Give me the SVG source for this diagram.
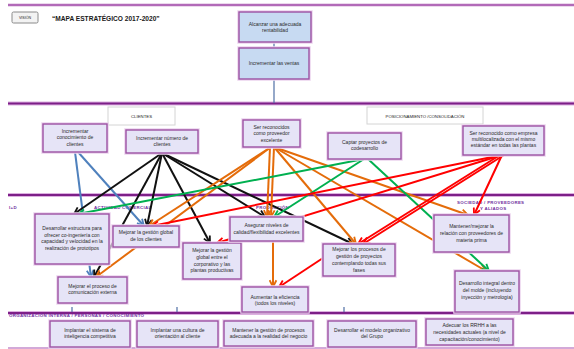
<svg xmlns="http://www.w3.org/2000/svg" width="574" height="349" viewBox="0 0 574 349">
<style>
.bg{fill:#fff}
.band-h{stroke:#dcb0e0;stroke-width:3.8;fill:none}
.band{stroke:#7d1f88;stroke-width:1.8;fill:none}
.band-top{stroke:#b26ab8;stroke-width:2.4;fill:none}
.band-bot{stroke:#c48ccb;stroke-width:1.4;fill:none}
.glow{fill:none;stroke:#ecd3ee;stroke-width:3.5}
.box{fill:#e6e4f7;stroke:#9c52a3;stroke-width:1.4}
.box.top{fill:#c7daf2}
.lab{fill:#fff;stroke:#d4d4d4;stroke-width:1}
.t{font-family:"Liberation Sans",Arial,sans-serif;font-size:5px;fill:#2a2a2a;text-anchor:middle}
.tl{font-family:"Liberation Sans",Arial,sans-serif;font-size:4.3px;fill:#222;text-anchor:middle}
.sec{font-family:"Liberation Sans",Arial,sans-serif;font-size:4.4px;font-weight:bold;fill:#7030a0;letter-spacing:0.3px}
.title{font-family:"Liberation Sans",Arial,sans-serif;font-size:6.6px;font-weight:bold;fill:#1a1a1a}
.c{fill:none;stroke-width:2}
.blue{stroke:#4f81bd}
.black{stroke:#111}
.orange{stroke:#e46c0a}
.green{stroke:#00b050}
.red{stroke:#ff0000}
.stub{stroke:#4f6fa5;stroke-width:1.2}
</style>
<defs>
<marker id="mBlue" viewBox="0 0 8 8" refX="7" refY="4" markerWidth="9" markerHeight="9" markerUnits="userSpaceOnUse" orient="auto"><path d="M1,1 L7,4 L1,7" fill="none" stroke="#4f81bd" stroke-width="1.6"/></marker>
<marker id="mBlack" viewBox="0 0 8 8" refX="7" refY="4" markerWidth="9" markerHeight="9" markerUnits="userSpaceOnUse" orient="auto"><path d="M1,1 L7,4 L1,7" fill="none" stroke="#111" stroke-width="1.6"/></marker>
<marker id="mOrange" viewBox="0 0 8 8" refX="7" refY="4" markerWidth="9" markerHeight="9" markerUnits="userSpaceOnUse" orient="auto"><path d="M1,1 L7,4 L1,7" fill="none" stroke="#e46c0a" stroke-width="1.6"/></marker>
<marker id="mGreen" viewBox="0 0 8 8" refX="7" refY="4" markerWidth="9" markerHeight="9" markerUnits="userSpaceOnUse" orient="auto"><path d="M1,1 L7,4 L1,7" fill="none" stroke="#00b050" stroke-width="1.6"/></marker>
<marker id="mRed" viewBox="0 0 8 8" refX="7" refY="4" markerWidth="9" markerHeight="9" markerUnits="userSpaceOnUse" orient="auto"><path d="M1,1 L7,4 L1,7" fill="none" stroke="#ff0000" stroke-width="1.6"/></marker>
</defs>
<rect class="bg" x="0" y="0" width="574" height="349"/>

<g id="bands">
<line class="band-top" x1="8" y1="5" x2="574" y2="5"/>
<line class="band-h" x1="8" y1="103.5" x2="574" y2="103.5"/>
<line class="band" x1="8" y1="103.5" x2="574" y2="103.5"/>
<line class="band-h" x1="8" y1="195" x2="574" y2="195"/>
<line class="band" x1="8" y1="195" x2="574" y2="195"/>
<line class="band-h" x1="8" y1="313" x2="574" y2="313"/>
<line class="band" x1="8" y1="313" x2="574" y2="313"/>
<line class="band-bot" x1="8" y1="348" x2="574" y2="348"/>
</g>

<g id="labels">
<rect x="12" y="12" width="26" height="11" rx="1.5" fill="#f3f3f3" stroke="#8a8a8a" stroke-width="1"/>
<text class="tl" x="25" y="19" style="font-size:3.6px">VISIÓN</text>
<text class="title" x="52" y="21">“MAPA ESTRATÉGICO 2017-2020”</text>
<rect class="lab" x="108" y="107" width="67" height="18"/>
<text class="tl" x="141.5" y="118">CLIENTES</text>
<rect class="lab" x="367" y="107" width="116" height="17"/>
<text class="tl" x="425" y="118">POSICIONAMIENTO /CONSOLIDACIÓN</text>
<text class="sec" x="9" y="209">I+D</text>
<text class="sec" x="94" y="209">ACTIVIDAD COMERCIAL</text>
<text class="sec" x="256" y="209">PRODUCCIÓN</text>
<text class="sec" x="457" y="204">SOCIEDAD / PROVEEDORES</text>
<text class="sec" x="480" y="209.5">Y ALIADOS</text>
<text class="sec" x="9" y="317">ORGANIZACIÓN INTERNA / PERSONAS / CONOCIMIENTO</text>
</g>

<g id="connectors">
<line class="stub" x1="274" y1="42" x2="274" y2="48"/>
<line class="stub" x1="274" y1="79" x2="274" y2="103"/>
<line class="stub" x1="72" y1="307" x2="72" y2="312"/>
<line class="stub" x1="177" y1="307" x2="177" y2="312"/>
<line class="stub" x1="344" y1="307" x2="344" y2="312"/>

<line class="c blue" x1="75" y1="152" x2="91" y2="277" marker-end="url(#mBlue)"/>
<line class="c blue" x1="78" y1="152" x2="144" y2="226" marker-end="url(#mBlue)"/>

<line class="c black" x1="162" y1="153" x2="74" y2="214" marker-end="url(#mBlack)"/>
<line class="c black" x1="162" y1="153" x2="94" y2="277" marker-end="url(#mBlack)"/>
<line class="c black" x1="162" y1="153" x2="147" y2="226" marker-end="url(#mBlack)"/>
<line class="c black" x1="162" y1="153" x2="210" y2="243" marker-end="url(#mBlack)"/>
<line class="c black" x1="162" y1="153" x2="265" y2="217" marker-end="url(#mBlack)"/>
<line class="c black" x1="162" y1="153" x2="353" y2="244" marker-end="url(#mBlack)"/>

<line class="c orange" x1="271" y1="147" x2="149" y2="226" marker-end="url(#mOrange)"/>
<line class="c orange" x1="271" y1="147" x2="96" y2="277" marker-end="url(#mOrange)"/>
<line class="c orange" x1="270" y1="147" x2="267" y2="217" marker-end="url(#mOrange)"/>
<line class="c orange" x1="274" y1="147" x2="271" y2="217" marker-end="url(#mOrange)"/>
<line class="c orange" x1="274" y1="147" x2="356" y2="244" marker-end="url(#mOrange)"/>
<line class="c orange" x1="274" y1="147" x2="468" y2="215" marker-end="url(#mOrange)"/>
<line class="c orange" x1="274" y1="147" x2="486" y2="271" marker-end="url(#mOrange)"/>
<line class="c orange" x1="273" y1="241" x2="273" y2="287" marker-end="url(#mOrange)"/>

<line class="c green" x1="364" y1="159" x2="78" y2="214" marker-end="url(#mGreen)"/>
<line class="c green" x1="364" y1="159" x2="274" y2="217" marker-end="url(#mGreen)"/>
<line class="c green" x1="368" y1="159" x2="489" y2="271" marker-end="url(#mGreen)"/>

<line class="c red" x1="502" y1="155" x2="152" y2="226" marker-end="url(#mRed)"/>
<line class="c red" x1="502" y1="155" x2="217" y2="243" marker-end="url(#mRed)"/>
<line class="c red" x1="500" y1="155" x2="358" y2="244" marker-end="url(#mRed)"/>
<line class="c red" x1="504" y1="155" x2="363" y2="244" marker-end="url(#mRed)"/>
<line class="c red" x1="502" y1="155" x2="474" y2="215" marker-end="url(#mRed)"/>
<line class="c red" x1="323" y1="258" x2="279" y2="287" marker-end="url(#mRed)"/>
</g>

<g id="n-alcanzar"><rect class="glow" x="239" y="12" width="72" height="30"/><rect class="box top" x="239" y="12" width="72" height="30"/>
<text class="t" x="275" y="25.5">Alcanzar una adecuada</text><text class="t" x="275" y="31.5">rentabilidad</text></g>
<g id="n-ventas"><rect class="glow" x="239" y="48" width="70" height="31"/><rect class="box top" x="239" y="48" width="70" height="31"/>
<text class="t" x="274" y="65">Incrementar las ventas</text></g>

<g id="n-conocimiento"><rect class="glow" x="43" y="124" width="64" height="28"/><rect class="box" x="43" y="124" width="64" height="28"/>
<text class="t" x="75" y="132.5">Incrementar</text><text class="t" x="75" y="139">conocimiento de</text><text class="t" x="75" y="145.5">clientes</text></g>
<g id="n-numero"><rect class="glow" x="126" y="130" width="72" height="23"/><rect class="box" x="126" y="130" width="72" height="23"/>
<text class="t" x="162" y="139.5">Incrementar número de</text><text class="t" x="162" y="145.5">clientes</text></g>
<g id="n-proveedor"><rect class="glow" x="243" y="120" width="57" height="27"/><rect class="box" x="243" y="120" width="57" height="27"/>
<text class="t" x="271.5" y="128.5">Ser reconocidos</text><text class="t" x="271.5" y="135">como proveedor</text><text class="t" x="271.5" y="141.5">excelente</text></g>
<g id="n-captar"><rect class="glow" x="328" y="133" width="73" height="26"/><rect class="box" x="328" y="133" width="73" height="26"/>
<text class="t" x="364.5" y="144">Captar proyectos de</text><text class="t" x="364.5" y="150">codesarrollo</text></g>
<g id="n-empresa"><rect class="glow" x="463" y="126" width="81" height="29"/><rect class="box" x="463" y="126" width="81" height="29"/>
<text class="t" x="503.5" y="135">Ser reconocido como  empresa</text><text class="t" x="503.5" y="141">multilocalizada con el mismo</text><text class="t" x="503.5" y="147">estándar en todas las plantas</text></g>

<g id="n-estructura"><rect class="glow" x="35" y="214" width="74" height="50"/><rect class="box" x="35" y="214" width="74" height="50"/>
<text class="t" x="72" y="230">Desarrollar estructura para</text><text class="t" x="72" y="236.7">ofrecer co-ingeniería con</text><text class="t" x="72" y="243.4">capacidad y velocidad en la</text><text class="t" x="72" y="250">realización de prototipos</text></g>
<g id="n-gestion-clientes"><rect class="glow" x="113" y="226" width="66" height="21"/><rect class="box" x="113" y="226" width="66" height="21"/>
<text class="t" x="146" y="234">Mejorar la gestión global</text><text class="t" x="146" y="240.7">de los clientes</text></g>
<g id="n-comunicacion"><rect class="glow" x="58" y="277" width="69" height="26"/><rect class="box" x="58" y="277" width="69" height="26"/>
<text class="t" x="92.5" y="287.7">Mejorar el proceso de</text><text class="t" x="92.5" y="294.4">comunicación  externa</text></g>
<g id="n-corporativo"><rect class="glow" x="183" y="243" width="58" height="36"/><rect class="box" x="183" y="243" width="58" height="36"/>
<text class="t" x="212" y="252.4">Mejorar la gestión</text><text class="t" x="212" y="259">global entre el</text><text class="t" x="212" y="265.7">corporativo y las</text><text class="t" x="212" y="272.4">plantas productivas</text></g>
<g id="n-asegurar"><rect class="glow" x="230" y="217" width="73" height="24"/><rect class="box" x="230" y="217" width="73" height="24"/>
<text class="t" x="266.5" y="227.4">Asegurar niveles de</text><text class="t" x="266.5" y="234">calidad/flexibilidad excelentes</text></g>
<g id="n-aumentar"><rect class="glow" x="242" y="287" width="66" height="25"/><rect class="box" x="242" y="287" width="66" height="25"/>
<text class="t" x="275" y="299">Aumentar la eficiencia</text><text class="t" x="275" y="305">(todos los niveles)</text></g>
<g id="n-procesos"><rect class="glow" x="323" y="244" width="72" height="32"/><rect class="box" x="323" y="244" width="72" height="32"/>
<text class="t" x="359" y="251">Mejorar los procesos de</text><text class="t" x="359" y="257.7">gestión de proyectos</text><text class="t" x="359" y="265">contemplando  todas sus</text><text class="t" x="359" y="271.7">fases</text></g>
<g id="n-mantener"><rect class="glow" x="434" y="215" width="75" height="37"/><rect class="box" x="434" y="215" width="75" height="37"/>
<text class="t" x="471.5" y="227.7">Mantener/mejorar la</text><text class="t" x="471.5" y="235">relación con proveedores de</text><text class="t" x="471.5" y="241.7">materia prima</text></g>
<g id="n-integral"><rect class="glow" x="455" y="271" width="64" height="41"/><rect class="box" x="455" y="271" width="64" height="41"/>
<text class="t" x="487" y="285">Desarrollo integral dentro</text><text class="t" x="487" y="291.7">del molde (incluyendo</text><text class="t" x="487" y="299">inyección y metrología)</text></g>

<g id="n-inteligencia"><rect class="glow" x="50" y="321" width="80" height="26"/><rect class="box" x="50" y="321" width="80" height="26"/>
<text class="t" x="90" y="331.7">Implantar el sistema de</text><text class="t" x="90" y="338.4">inteligencia competitiva</text></g>
<g id="n-cultura"><rect class="glow" x="137" y="321" width="81" height="26"/><rect class="box" x="137" y="321" width="81" height="26"/>
<text class="t" x="177.5" y="331.7">Implantar una cultura de</text><text class="t" x="177.5" y="338.4">orientación al cliente</text></g>
<g id="n-gestion-procesos"><rect class="glow" x="224" y="321" width="89" height="25"/><rect class="box" x="224" y="321" width="89" height="25"/>
<text class="t" x="268.5" y="331.7">Mantener la gestión de procesos</text><text class="t" x="268.5" y="338.4">adecuada a la realidad del negocio</text></g>
<g id="n-modelo"><rect class="glow" x="328" y="321" width="88" height="26"/><rect class="box" x="328" y="321" width="88" height="26"/>
<text class="t" x="372" y="331.7">Desarrollar el modelo organizativo</text><text class="t" x="372" y="338.4">del Grupo</text></g>
<g id="n-rrhh"><rect class="glow" x="426" y="319" width="87" height="26"/><rect class="box" x="426" y="319" width="87" height="26"/>
<text class="t" x="469.5" y="327.4">Adecuar los RRHH a las</text><text class="t" x="469.5" y="334.4">necesidades actuales (a nivel de</text><text class="t" x="469.5" y="341">capacitación/conocimiento)</text></g>
</svg>
